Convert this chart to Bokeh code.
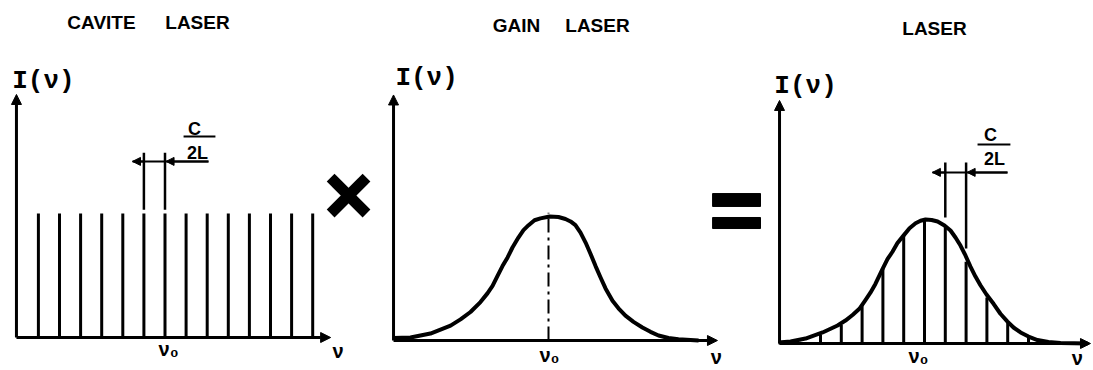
from bokeh.plotting import figure
from bokeh.layouts import row
from bokeh.models import Range1d, Arrow, NormalHead, Label, ColumnDataSource
from bokeh.embed import file_html
from bokeh.resources import INLINE

# ---------------- data (frequency in units of c/2L, relative to nu0; intensity normalised) ----
panel_titles = [["CAVITE", "LASER"], ["GAIN", "LASER"], ["LASER"]]
y_label = "I(ν)"
x_label = "ν"
center_label = "ν₀"
spacing_num = "C"
spacing_den = "2L"

cavity_modes = [-6, -5, -4, -3, -2, -1, 0, 1, 2, 3, 4, 5, 6, 7]
cavity_intensity = [1.0, 1.0, 1.0, 1.0, 1.0, 1.0, 1.0, 1.0, 1.0, 1.0, 1.0, 1.0, 1.0, 1.0]

gain_freq = [-7.31, -6.51, -5.57, -4.62, -4.15, -3.68, -3.21, -2.88, -2.64, -2.41, -2.17, -1.93,
             -1.70, -1.42, -1.18, -0.94, -0.66, -0.38, 0.05, 0.47, 0.80, 1.04, 1.27, 1.51, 1.75,
             1.98, 2.22, 2.45, 2.69, 3.02, 3.30, 3.63, 4.01, 4.43, 4.81, 5.19, 5.66, 6.13, 7.08]
gain_intensity = [0.02, 0.024, 0.056, 0.12, 0.17, 0.23, 0.31, 0.38, 0.44, 0.52, 0.60, 0.67,
                  0.75, 0.83, 0.89, 0.93, 0.97, 0.985, 1.0, 0.996, 0.98, 0.96, 0.93, 0.87, 0.79,
                  0.70, 0.60, 0.51, 0.42, 0.32, 0.26, 0.20, 0.15, 0.105, 0.07, 0.04, 0.02, 0.01, 0.0]

laser_modes = [-6, -5, -4, -3, -2, -1, 0, 1, 2, 3, 4, 5, 6]
laser_intensity = [0.015, 0.07, 0.15, 0.30, 0.60, 0.88, 1.0, 0.94, 0.66, 0.37, 0.17, 0.05, 0.01]

laser_env_freq = [-7.02, -6.44, -5.72, -4.90, -4.18, -3.80, -3.46, -3.13, -2.84, -2.60, -2.36,
                  -2.02, -1.78, -1.54, -1.30, -1.01, -0.72, -0.43, -0.19, 0.05, 0.34, 0.63, 0.96,
                  1.25, 1.49, 1.73, 1.97, 2.21, 2.45, 2.69, 2.98, 3.32, 3.65, 3.99, 4.28, 4.62,
                  5.0, 5.43, 5.96, 6.54, 7.84]
laser_env_intensity = [0.008, 0.016, 0.04, 0.089, 0.145, 0.185, 0.23, 0.28, 0.35, 0.41, 0.48,
                       0.60, 0.68, 0.74, 0.81, 0.87, 0.93, 0.97, 0.99, 1.0, 0.996, 0.984, 0.952,
                       0.911, 0.855, 0.79, 0.71, 0.62, 0.54, 0.47, 0.395, 0.32, 0.24, 0.177, 0.129,
                       0.089, 0.056, 0.028, 0.012, 0.004, 0.0]

# ---------------- layout (pixel geometry of each panel) ----------------
H = 369
SY = 124.0
panels = [
    dict(left=0, right=380, nu0=164.5, base=337, sx=21.1),
    dict(left=380, right=770, nu0=548, base=340, sx=21.2),
    dict(left=770, right=1092, nu0=924, base=343, sx=20.8),
]

SANS = "Liberation Sans"
MONO = "Liberation Mono"


def make_fig(g):
    p = figure(width=g["right"] - g["left"], height=H,
               x_range=Range1d((g["left"] - g["nu0"]) / g["sx"], (g["right"] - g["nu0"]) / g["sx"]),
               y_range=Range1d((g["base"] - H) / SY, g["base"] / SY),
               x_axis_type=None, y_axis_type=None, toolbar_location=None,
               output_backend="svg", min_border=0)
    p.outline_line_color = None
    p.background_fill_color = "white"
    p.border_fill_color = "white"
    return p


def axes(p, x0, x1, ytop):
    for xs, ys, xe, ye in [(x0, 0, x0, ytop), (x0, 0, x1, 0)]:
        p.add_layout(Arrow(end=NormalHead(size=10, fill_color="black", line_color="black", line_width=1),
                           x_start=xs, y_start=ys, x_end=xe, y_end=ye,
                           line_width=3, line_color="black"))


def lab(p, x, y, text, size, font=SANS, bold=True):
    p.add_layout(Label(x=x, y=y, text=text, text_font=font, text_font_size=f"{size}px",
                       text_font_style="bold" if bold else "normal",
                       text_align="center", text_baseline="middle", text_color="black"))


def spacing_marker(p, xa, xb, y_line, x_left, x_right, y_ext_top, ext_bottoms, frac_x, frac_y):
    # extension lines
    p.segment(x0=[xa, xb], y0=ext_bottoms, x1=[xa, xb], y1=[y_ext_top, y_ext_top],
              line_width=2.5, line_color="black")
    # dimension line
    p.segment(x0=[x_left], y0=[y_line], x1=[x_right], y1=[y_line], line_width=2, line_color="black")
    for xs, xe in [(xa, x_left), (x_right, xb + 0.05)]:
        p.add_layout(Arrow(end=NormalHead(size=8, fill_color="black", line_color="black", line_width=1),
                           x_start=xs, y_start=y_line, x_end=xe, y_end=y_line,
                           line_width=2, line_color="black"))
    # fraction C / 2L
    lab(p, frac_x[0], frac_y[0], spacing_num, 18)
    p.segment(x0=[frac_x[1]], y0=[frac_y[1]], x1=[frac_x[2]], y1=[frac_y[1]], line_width=2, line_color="black")
    lab(p, frac_x[3], frac_y[2], spacing_den, 18)


# ---------------- panel 1 : cavity modes ----------------
p1 = make_fig(panels[0])
src1 = ColumnDataSource(dict(x=cavity_modes, y=cavity_intensity, z=[0.0] * len(cavity_modes)))
p1.segment(x0="x", y0="z", x1="x", y1="y", source=src1, line_width=3, line_color="black")
axes(p1, -7.04, 7.85, 1.96)
lab(p1, -5.76, 2.07, y_label, 26, font=MONO)
lab(p1, 0.17, -0.09, center_label, 20)
lab(p1, 8.2, -0.105, x_label, 20)
lab(p1, -3.01, 2.54, panel_titles[0][0], 19)
lab(p1, 1.54, 2.54, panel_titles[0][1], 19)
spacing_marker(p1, -1, 0, 1.42, -1.54, 2.06, 1.49, [1.03, 1.03],
               [1.40, 0.88, 2.39, 1.54], [1.685, 1.62, 1.49])
# multiplication sign
p1.segment(x0=[7.85, 7.85], y0=[1.29, 1.0], x1=[9.55, 9.55], y1=[1.0, 1.29],
           line_width=11, line_color="black", line_cap="butt")

# ---------------- panel 2 : gain curve ----------------
p2 = make_fig(panels[1])
p2.line(gain_freq, gain_intensity, line_width=4, line_color="black", line_join="round")
p2.segment(x0=[0], y0=[0], x1=[0], y1=[1.03], line_width=2, line_color="black", line_dash="14 5 3 5")
axes(p2, -7.31, 7.97, 1.98)
lab(p2, -5.75, 2.12, y_label, 26, font=MONO)
lab(p2, 0.05, -0.12, center_label, 20)
lab(p2, 7.92, -0.137, x_label, 20)
lab(p2, -1.51, 2.54, panel_titles[1][0], 19)
lab(p2, 2.31, 2.54, panel_titles[1][1], 19)
# equals sign
p2.quad(left=[7.74, 7.74], right=[10.0, 10.0], bottom=[1.081, 0.903], top=[1.185, 0.992],
        fill_color="black", line_color="black")

# ---------------- panel 3 : laser output ----------------
p3 = make_fig(panels[2])
src3 = ColumnDataSource(dict(x=laser_modes, y=laser_intensity, z=[0.0] * len(laser_modes)))
p3.segment(x0="x", y0="z", x1="x", y1="y", source=src3, line_width=3, line_color="black")
p3.line(laser_env_freq, laser_env_intensity, line_width=4, line_color="black", line_join="round")
axes(p3, -6.97, 7.98, 1.96)
lab(p3, -5.72, 2.08, y_label, 26, font=MONO)
lab(p3, -0.29, -0.097, center_label, 20)
lab(p3, 7.35, -0.115, x_label, 20)
lab(p3, 0.48, 2.54, panel_titles[2][0], 19)
spacing_marker(p3, 1, 2, 1.38, 0.38, 3.99, 1.46, [1.016, 0.766],
               [3.17, 2.55, 4.13, 3.37], [1.68, 1.605, 1.49])

layout = row(p1, p2, p3)
open("out.html", "w").write(file_html(layout, INLINE))
